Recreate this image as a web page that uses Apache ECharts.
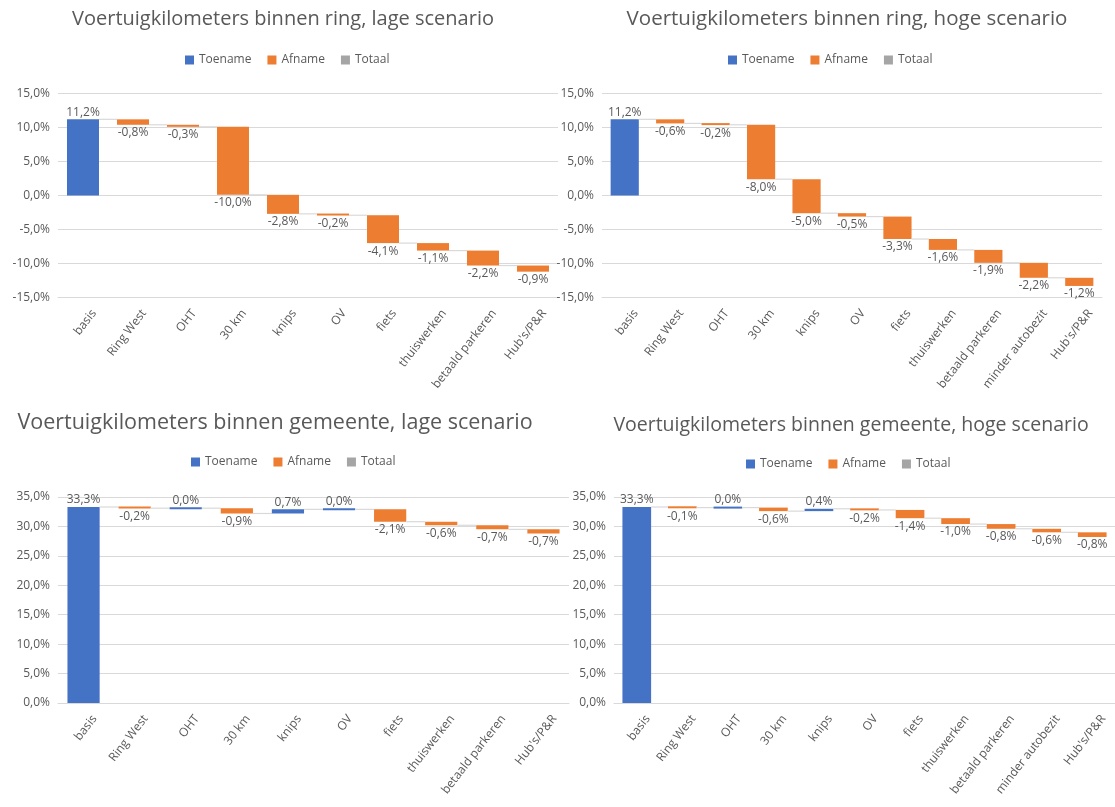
<!DOCTYPE html>
<html>
<head>
<meta charset="utf-8">
<script src="https://cdn.jsdelivr.net/npm/echarts@6/dist/echarts.min.js"></script>
<style>
html,body{margin:0;padding:0;background:#fff;}
#chart{width:1115px;height:807px;}
</style>
</head>
<body>
<div id="chart"></div>
<script>
// ---------- data ----------
const catLage = ['basis','Ring West','OHT','30 km','knips','OV','fiets','thuiswerken','betaald parkeren',"Hub's/P&R"];
const catHoog = ['basis','Ring West','OHT','30 km','knips','OV','fiets','thuiswerken','betaald parkeren','minder autobezit',"Hub's/P&R"];

const ringLage = [11.2, -0.8, -0.3, -10.0, -2.8, -0.2, -4.1, -1.1, -2.2, -0.9];
const ringHoog = [11.2, -0.6, -0.2, -8.0, -5.0, -0.5, -3.3, -1.6, -1.9, -2.2, -1.2];
const gemLage  = [33.3, -0.2, 0.0, -0.9, 0.7, 0.0, -2.1, -0.6, -0.7, -0.7];
const gemHoog  = [33.3, -0.1, 0.0, -0.6, 0.4, -0.2, -1.4, -1.0, -0.8, -0.6, -0.8];

const titles = [
  'Voertuigkilometers binnen ring, lage scenario',
  'Voertuigkilometers binnen ring, hoge scenario',
  'Voertuigkilometers binnen gemeente, lage scenario',
  'Voertuigkilometers binnen gemeente, hoge scenario'
];
const legendNames = ['Toename', 'Afname', 'Totaal'];
const ringTicks = {min: -15, max: 15, interval: 5};
const gemTicks  = {min: 0, max: 35, interval: 5};

// ---------- styling ----------
const FONT = 'Open Sans';
const TXT = '#595959';
const BLUE = '#4472c4', ORANGE = '#ed7d31', GRAY = '#a5a5a5';
const GRID = '#d9d9d9';

function fmt(v){ return v.toFixed(1).replace('.', ',') + '%'; }

function waterfall(vals){
  let cum = 0;
  return vals.map((v, i) => {
    const s = cum; cum = +(cum + v).toFixed(4);
    return [i, s, cum, v, vals.length];
  });
}

function makeRender(barRatio){
  return function(params, api){
    const i = api.value(0), s = api.value(1), e = api.value(2), d = api.value(3), n = api.value(4);
    const band = api.size([1, 0])[0];
    const w = band * barRatio;
    const pTop = api.coord([i, Math.max(s, e)]);
    const pBot = api.coord([i, Math.min(s, e)]);
    let h = pBot[1] - pTop[1];
    let y0 = pTop[1];
    if (h < 2) { y0 = y0 - (2 - h) / 2; h = 2; }
    const color = d >= 0 ? BLUE : ORANGE;
    const children = [{
      type: 'rect',
      shape: {x: pTop[0] - w / 2, y: y0, width: w, height: h},
      style: {fill: color}
    }];
    const pe = api.coord([i, e]);
    if (i < n - 1) {
      const pn = api.coord([i + 1, e]);
      children.push({
        type: 'line',
        shape: {x1: pTop[0] + w / 2, y1: pe[1], x2: pn[0] - w / 2, y2: pe[1]},
        style: {stroke: GRID, lineWidth: 1.2}
      });
    }
    const pos = d >= 0;
    children.push({
      type: 'text',
      x: pTop[0],
      y: pos ? y0 - 1 : y0 + h + 2,
      style: {
        text: fmt(d),
        fill: TXT,
        fontSize: 12,
        fontFamily: FONT,
        align: 'center',
        verticalAlign: pos ? 'bottom' : 'top'
      }
    });
    return {type: 'group', children: children};
  };
}

const chart = echarts.init(document.getElementById('chart'), null, {renderer: 'canvas'});

const grids = [
  {left: 58, top: 93.5, width: 500, height: 204},
  {left: 602, top: 93.5, width: 500, height: 204},
  {left: 58, top: 497, width: 511, height: 206},
  {left: 614, top: 497, width: 506, height: 206}
];
const cats = [catLage, catHoog, catLage, catHoog];
const ticks = [ringTicks, ringTicks, gemTicks, gemTicks];
const vals = [ringLage, ringHoog, gemLage, gemHoog];
const ratios = [0.64, 0.62, 0.63, 0.63];
const titlePos = [[278, 4], [842, 4], [270, 407], [846, 410]];
const titleSize = [20, 20.5, 21.5, 19.5];
const legendPos = [[180, 49], [723, 49], [186, 451], [741, 453]];

const xAxes = [], yAxes = [], series = [], titleArr = [], legends = [];
for (let k = 0; k < 4; k++) {
  xAxes.push({
    type: 'category', gridIndex: k, data: cats[k],
    axisLine: {show: true, onZero: false, lineStyle: {color: GRID}},
    axisTick: {show: false},
    axisLabel: {
      interval: 0, rotate: 52, color: TXT, fontSize: 12, fontFamily: FONT, margin: 5,
      verticalAlign: 'top', padding: [8, 0, 0, 0]
    }
  });
  yAxes.push({
    type: 'value', gridIndex: k, min: ticks[k].min, max: ticks[k].max, interval: ticks[k].interval,
    axisLine: {show: false}, axisTick: {show: false},
    splitLine: {lineStyle: {color: GRID}},
    axisLabel: {color: TXT, fontSize: 12, fontFamily: FONT, margin: 8, formatter: v => fmt(v)}
  });
  series.push({
    type: 'custom', name: 'waterfall' + k, xAxisIndex: k, yAxisIndex: k,
    renderItem: makeRender(ratios[k]),
    data: waterfall(vals[k]),
    encode: {x: 0, y: [1, 2]},
    clip: false, silent: true
  });
  titleArr.push({
    text: titles[k], left: titlePos[k][0], top: titlePos[k][1], textAlign: 'center',
    textStyle: {fontSize: titleSize[k], fontWeight: 'normal', color: TXT, fontFamily: FONT}
  });
  legends.push({
    data: legendNames, left: legendPos[k][0], top: legendPos[k][1],
    icon: 'rect', itemWidth: 9, itemHeight: 9, itemGap: 16,
    textStyle: {color: TXT, fontSize: 12, fontFamily: FONT}, selectedMode: false
  });
}
const legendColors = [BLUE, ORANGE, GRAY];
legendNames.forEach((nm, j) => {
  series.push({type: 'bar', name: nm, xAxisIndex: 0, yAxisIndex: 0, data: [], itemStyle: {color: legendColors[j]}});
});

chart.setOption({
  animation: false,
  backgroundColor: '#fff',
  title: titleArr,
  legend: legends,
  grid: grids,
  xAxis: xAxes,
  yAxis: yAxes,
  series: series
});
</script>
</body>
</html>
